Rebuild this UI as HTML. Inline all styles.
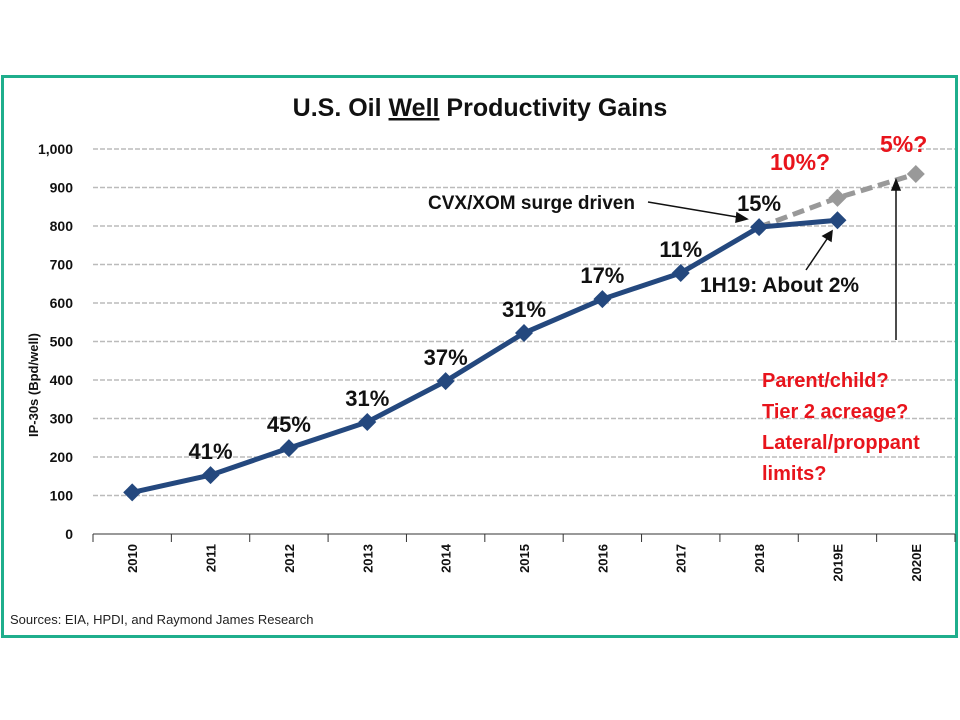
<!DOCTYPE html>
<html><head><meta charset="utf-8"><style>
body{margin:0;background:#fff;width:960px;height:720px;overflow:hidden;font-family:"Liberation Sans",sans-serif}
svg{position:absolute;left:0;top:0}
</style></head><body>
<svg width="960" height="720">
<rect x="2.5" y="76.5" width="954" height="560" fill="#fff" stroke="#1fae8c" stroke-width="3"/>
<text x="480" y="116" text-anchor="middle" font-size="25" font-weight="bold" fill="#111">U.S. Oil <tspan text-decoration="underline">Well</tspan> Productivity Gains</text>
<g id="grid"></g><g id="axes"></g><g id="series"></g>
<text transform="translate(38,385) rotate(-90)" text-anchor="middle" font-size="13" font-weight="bold" fill="#111">IP-30s (Bpd/well)</text>
<g font-weight="bold" font-size="21" fill="#111">
<text x="428" y="209" font-size="19">CVX/XOM surge driven</text>
<text x="700" y="292">1H19: About 2%</text>
<text x="770" y="170" fill="#e8141c" font-size="23">10%?</text>
<text x="880" y="152" fill="#e8141c" font-size="23">5%?</text>
<g fill="#e8141c" font-size="20"><text x="762" y="387">Parent/child?</text><text x="762" y="418">Tier 2 acreage?</text><text x="762" y="449">Lateral/proppant</text><text x="762" y="480">limits?</text></g>
</g>
<g stroke="#111" stroke-width="1.5" fill="#111">
<line x1="648" y1="202" x2="743" y2="218"/><polygon points="747,219 737,213 736,222"/>
<line x1="806" y1="270" x2="829" y2="236"/><polygon points="832,231 823,236 831,241"/>
<line x1="896" y1="340" x2="896" y2="186"/><polygon points="896,180 892,190 900,190"/>
</g>
<text x="10" y="624" font-size="13" fill="#222">Sources: EIA, HPDI, and Raymond James Research</text>
</svg>
<script>
const categories=["2010","2011","2012","2013","2014","2015","2016","2017","2018","2019E","2020E"];
const actual=[108,153,223,291,397,522,610,678,797,815,null];
const forecast=[null,null,null,null,null,null,null,null,797,873,935];
const gains=["","41%","45%","31%","37%","31%","17%","11%","15%","",""];
const yTicks=[0,100,200,300,400,500,600,700,800,900,1000];
const NS="http://www.w3.org/2000/svg";
const x0=93,x1=955,yb=534,yt=149;
const bw=(x1-x0)/categories.length;
const X=i=>x0+bw*(i+0.5);
const Y=v=>yb-(v/1000)*(yb-yt);
function mk(t,a,p){const e=document.createElementNS(NS,t);for(const k in a)e.setAttribute(k,a[k]);p.appendChild(e);return e;}
const grid=document.getElementById('grid'),axes=document.getElementById('axes'),ser=document.getElementById('series');
yTicks.forEach(v=>{
 if(v>0){const l=mk('line',{x1:x0,x2:x1,y1:Y(v),y2:Y(v),stroke:'#bbb','stroke-width':1.5,'stroke-dasharray':'5,2'},grid);
 
 }
 const t=mk('text',{x:73,y:Y(v)+5,'text-anchor':'end','font-size':14,'font-weight':'bold',fill:'#111'},axes);
 t.textContent=v.toLocaleString('en-US');
 
 
});
const ax=mk('line',{x1:x0,x2:x1,y1:yb,y2:yb,stroke:'#333','stroke-width':1},axes);


for(let i=0;i<=categories.length;i++){const tk=mk('line',{x1:x0+bw*i,x2:x0+bw*i,y1:yb,y2:yb+8,stroke:'#333'},axes);
 
 }
categories.forEach((c,i)=>{const t=mk('text',{transform:`translate(${X(i)+5},${yb+10}) rotate(-90)`,'text-anchor':'end','font-size':13,'font-weight':'bold',fill:'#111'},axes);
 t.textContent=c;
 
 });
function line(arr,color,dash,name){
 const pts=[];arr.forEach((v,i)=>{if(v!=null)pts.push([X(i),Y(v)]);});
 const p=mk('polyline',{points:pts.map(p=>p.join(',')).join(' '),fill:'none',stroke:color,'stroke-width':5,'stroke-dasharray':dash},ser);
 
 
 return pts;}
const fp=line(forecast,'#999','12,6','forecast-line');
fp.slice(1).forEach(([x,y])=>{const m=mk('polygon',{points:`${x},${y-9} ${x+9},${y} ${x},${y+9} ${x-9},${y}`,fill:'#999'},ser);
 
 });
const ap=line(actual,'#24487e','','actual-line');
ap.forEach(([x,y])=>{const m=mk('polygon',{points:`${x},${y-9} ${x+9},${y} ${x},${y+9} ${x-9},${y}`,fill:'#24487e'},ser);
 
 });
gains.forEach((g,i)=>{if(!g)return;const t=mk('text',{x:X(i),y:Y(actual[i])-16,'text-anchor':'middle','font-size':22,'font-weight':'bold',fill:'#111'},ser);
 t.textContent=g;
 
 });
</script>
</body></html>
